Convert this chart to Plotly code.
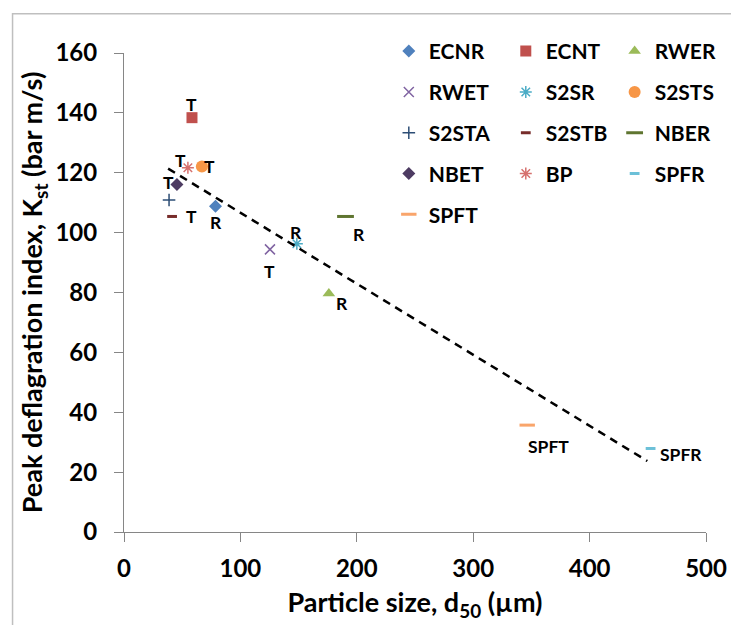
import plotly.graph_objects as go

# Particle size d50 (um) and Kst (bar m/s) for each dust sample
names = ["ECNR", "ECNT", "RWER", "RWET", "S2SR", "S2STS", "S2STA",
         "S2STB", "NBER", "NBET", "BP", "SPFR", "SPFT"]
d50 = [78.6, 58.4, 176.0, 125.4, 148.5, 66.9, 38.7, 41.3, 190.3, 45.5, 54.9, 452.4, 346.4]
kst = [108.8, 138.4, 79.7, 94.4, 96.3, 122.1, 110.9, 105.4, 105.4, 116.1, 121.7, 27.9, 35.7]
point_labels = ["R", "T", "R", "T", "R", "T", "", "T", "R", "T", "T", "SPFR", "SPFT"]

# dashed trend line end points
trend_x = [37.9, 449.6]
trend_y = [121.4, 23.7]

x_ticks = [0, 100, 200, 300, 400, 500]
y_ticks = [0, 20, 40, 60, 80, 100, 120, 140, 160]

# marker style per sample: symbol, colour, size, line width
styles = {
    "ECNR": ("diamond", "#4F81BD", 10, 0),
    "ECNT": ("square", "#C0504D", 11, 0),
    "RWER": ("triangle-up", "#9BBB59", 11, 0),
    "RWET": ("x-thin-open", "#8064A2", 10, 1.5),
    "S2SR": ("asterisk-open", "#4BACC6", 10, 1.5),
    "S2STS": ("circle", "#F79646", 12, 0),
    "S2STA": ("cross-thin-open", "#2C4D75", 9, 1.5),
    "S2STB": ("line-ew-open", "#772C2A", 7, 3),
    "NBER": ("line-ew-open", "#5F7530", 12, 3),
    "NBET": ("diamond", "#4D3B62", 10, 0),
    "BP": ("asterisk-open", "#D6716E", 10, 1.5),
    "SPFR": ("line-ew-open", "#6CC0D8", 7, 3),
    "SPFT": ("line-ew-open", "#F9A56B", 11, 3),
}
# label offsets (px) from each point
label_shift = {
    "ECNR": (1, -16), "ECNT": (0, 13), "RWER": (13, -10), "RWET": (0, -22),
    "S2SR": (-1, 11), "S2STS": (8, 0), "S2STB": (19, 0), "NBER": (13, -18),
    "NBET": (-8, 2), "BP": (-7, 7), "SPFR": (30, -6), "SPFT": (21, -21),
}

FONT = "Lato"
fig = go.Figure()

# legend columns (row-major order like the original)
column_of = {}
for i, n in enumerate(names):
    column_of[n] = ["legend", "legend2", "legend3"][i % 3]

for i, n in enumerate(names):
    sym, col, size, lw = styles[n]
    fig.add_trace(go.Scatter(
        x=[d50[i]], y=[kst[i]], mode="markers", name=n,
        legend=column_of[n], legendgroup=n,
        marker=dict(symbol=sym, color=col, size=size,
                    line=dict(color=col, width=lw)),
    ))

fig.add_trace(go.Scatter(
    x=trend_x, y=trend_y, mode="lines", showlegend=False,
    line=dict(color="black", width=2.5, dash="8px,6px"),
))

for i, n in enumerate(names):
    if point_labels[i]:
        dx, dy = label_shift[n]
        fig.add_annotation(
            x=d50[i], y=kst[i], text=point_labels[i], showarrow=False,
            xshift=dx, yshift=dy,
            font=dict(family=FONT, size=17.5, color="black", weight="bold"),
        )

axis_common = dict(
    showgrid=False, zeroline=False, showline=True, linecolor="#868686",
    linewidth=1, ticks="outside", ticklen=9, tickcolor="#868686",
    tickfont=dict(family=FONT, size=24, color="black", weight="bold"),
)
title_font = dict(family=FONT, size=27, color="black", weight="bold")

legend_common = dict(
    font=dict(family=FONT, size=21, color="black", weight="bold"),
    bgcolor="rgba(0,0,0,0)", yanchor="top", y=1.046,
    tracegroupgap=10.5, itemclick=False,
)

# page body adds an 8px offset, so the figure is a bit smaller than the window
fig.update_layout(
    width=731, height=617,
    margin=dict(l=116, r=30, t=45, b=92),
    plot_bgcolor="white", paper_bgcolor="white",
    xaxis=dict(range=[0, 500], tickvals=x_ticks, ticklabelstandoff=6, **axis_common,
               title=dict(text="Particle size, d<sub>50</sub> (µm)", standoff=12,
                          font=title_font)),
    yaxis=dict(range=[0, 160], tickvals=y_ticks, ticklabelstandoff=12, **axis_common,
               title=dict(text="Peak deflagration index, K<sub>st</sub> (bar m/s)", standoff=4,
                          font=title_font)),
    legend=dict(x=0.455, **legend_common),
    legend2=dict(x=0.656, **legend_common),
    legend3=dict(x=0.843, **legend_common),
    shapes=[dict(type="rect", xref="paper", yref="paper",
                 x0=-0.1915, x1=1.0615, y0=-0.203, y1=1.082,
                 line=dict(color="#BFBFBF", width=1.5))],
)

fig.write_html("out.html")
